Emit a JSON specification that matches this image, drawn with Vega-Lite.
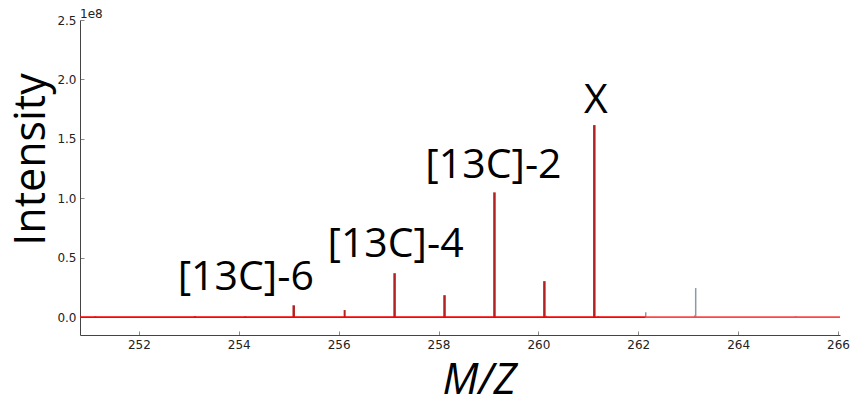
{
  "$schema": "https://vega.github.io/schema/vega-lite/v6.json",
  "width": 760,
  "height": 315,
  "autosize": {"type": "none"},
  "padding": {"left": 80, "top": 20, "right": 17, "bottom": 70},
  "background": "white",
  "config": {"view": {"stroke": null}},
  "title": {"text": "1e8", "anchor": "start", "frame": "group", "font": "DejaVu Sans", "fontSize": 12, "fontWeight": "normal", "color": "#222", "offset": 0, "dy": 7},
  "datasets": {
    "baseline": [
      {"x": 250.82, "x2": 262.15, "part": "a"},
      {"x": 262.15, "x2": 266.04, "part": "b"}
    ],
    "peaks": [
      {"mz": 251.13, "intensity": 600000, "series": "minor"},
      {"mz": 253.12, "intensity": 800000, "series": "minor"},
      {"mz": 254.13, "intensity": 600000, "series": "minor"},
      {"mz": 255.1, "intensity": 10000000, "series": "main"},
      {"mz": 256.12, "intensity": 6000000, "series": "minor"},
      {"mz": 257.12, "intensity": 37000000, "series": "main"},
      {"mz": 258.12, "intensity": 18500000, "series": "main"},
      {"mz": 259.12, "intensity": 105000000, "series": "main"},
      {"mz": 260.12, "intensity": 30300000, "series": "main"},
      {"mz": 261.12, "intensity": 161600000, "series": "main"},
      {"mz": 260.16, "intensity": 1200000, "series": "other"},
      {"mz": 261.2, "intensity": 900000, "series": "other"},
      {"mz": 262.15, "intensity": 4200000, "series": "other"},
      {"mz": 263.13, "intensity": 1500000, "series": "other"},
      {"mz": 263.15, "intensity": 24500000, "series": "other"},
      {"mz": 265.15, "intensity": 900000, "series": "other"}
    ],
    "labels": [
      {"mz": 254.14, "y": 22700000, "label": "[13C]-6"},
      {"mz": 257.14, "y": 50500000, "label": "[13C]-4"},
      {"mz": 259.1, "y": 117000000, "label": "[13C]-2"},
      {"mz": 261.15, "y": 171700000, "label": "X"}
    ]
  },
  "layer": [
    {
      "data": {"name": "peaks"},
      "mark": {"type": "rule"},
      "encoding": {
        "x": {"field": "mz", "type": "quantitative",
          "scale": {"domain": [250.82, 266.04], "nice": false, "zero": false},
          "axis": {
            "values": [252, 254, 256, 258, 260, 262, 264, 266],
            "title": "M/Z", "titleFont": "Open Sans", "titleFontSize": 43, "titleFontStyle": "italic", "titleFontWeight": "normal", "titleColor": "black",
            "titleX": 399, "titleY": 58, "titleBaseline": "alphabetic", "titleAlign": "center",
            "labelFont": "DejaVu Sans", "labelFontSize": 12, "labelColor": "#222", "labelPadding": 8,
            "domainColor": "#444", "tickColor": "#888", "tickSize": -4, "grid": false, "labelFlush": false
          }},
        "y": {"field": "intensity", "type": "quantitative",
          "scale": {"domain": [-15000000, 250000000], "nice": false, "zero": false},
          "axis": {
            "values": [0, 50000000, 100000000, 150000000, 200000000, 250000000],
            "labelExpr": "format(datum.value/1e8, '.1f')",
            "title": "Intensity", "titleFont": "Open Sans", "titleFontSize": 43, "titleFontWeight": "normal", "titleColor": "black",
            "titleX": -36, "titleY": 139, "titleBaseline": "alphabetic", "titleAngle": -90, "titleAlign": "center",
            "labelFont": "DejaVu Sans", "labelFontSize": 12, "labelColor": "#222", "labelPadding": 8,
            "domainColor": "#444", "tickColor": "#888", "tickSize": -4, "grid": false, "labelFlush": false
          }},
        "y2": {"datum": 0},
        "stroke": {"field": "series", "type": "nominal", "scale": {"domain": ["main", "minor", "other"], "range": ["#b22222", "#b22222", "#8a9aab"]}, "legend": null},
        "strokeWidth": {"field": "series", "type": "nominal", "scale": {"domain": ["main", "minor", "other"], "range": [2.5, 1.5, 1.2]}, "legend": null}
      }
    },
    {
      "data": {"name": "baseline"},
      "mark": {"type": "rule", "strokeWidth": 1.6},
      "encoding": {
        "x": {"field": "x", "type": "quantitative"},
        "x2": {"field": "x2"},
        "y": {"datum": 0, "type": "quantitative"},
        "color": {"field": "part", "type": "nominal", "scale": {"domain": ["a", "b"], "range": ["#ff0000", "#ff4646"]}, "legend": null}
      }
    },
    {
      "data": {"name": "labels"},
      "mark": {"type": "text", "font": "Open Sans", "fontSize": 41, "color": "black", "align": "center", "baseline": "alphabetic"},
      "encoding": {
        "x": {"field": "mz", "type": "quantitative"},
        "y": {"field": "y", "type": "quantitative"},
        "text": {"field": "label"}
      }
    }
  ]
}
